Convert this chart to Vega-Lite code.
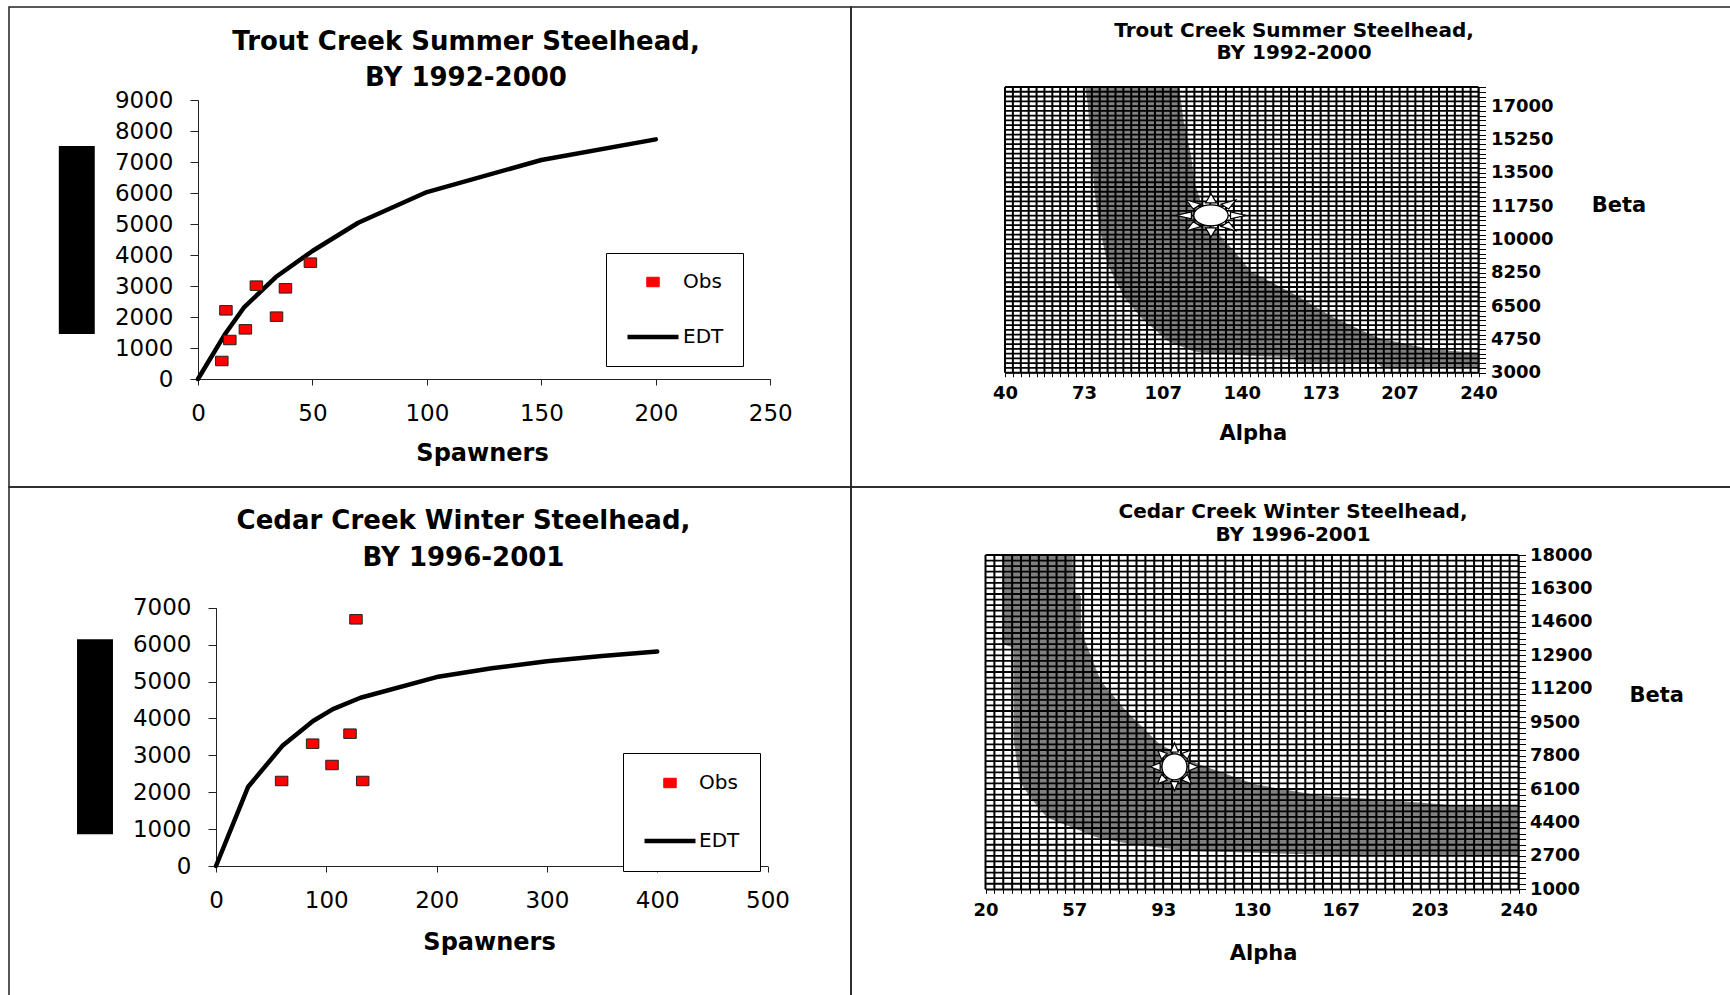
{
  "$schema": "https://vega.github.io/schema/vega-lite/v6.json",
  "background": "white",
  "padding": {"left": 8, "top": 6, "right": 0, "bottom": 0},
  "columns": 2,
  "spacing": 0,
  "bounds": "flush",
  "align": "each",
  "resolve": {"scale": {"color": "independent"}, "legend": {"color": "independent"}},
  "config": {
    "view": {"stroke": "#222222", "strokeWidth": 1.5},
    "font": "DejaVu Sans",
    "axis": {"grid": false, "labelOverlap": false, "labelFlush": false, "labelBound": false, "labelColor": "#000000", "titleColor": "#000000", "domainColor": "#222222", "tickColor": "#222222", "domainWidth": 1, "tickWidth": 1},
    "title": {"color": "#000000"}
  },
  "concat": [
    {
      "width": 842, "height": 480,
      "title": {"text": ["Trout Creek Summer Steelhead,", "BY 1992-2000"], "anchor": "middle", "frame": "group", "baseline": "alphabetic", "offset": -105, "dx": 36, "font": "DejaVu Sans", "fontWeight": "bold", "fontSize": 26, "lineHeight": 36},
      "layer": [
        {
          "data": {"values": [{"x0": -60.8, "x1": -45.1, "y0": 1452, "y1": 7516}]},
          "mark": {"type": "rect", "color": "#000000"},
          "encoding": {
            "x": {"field": "x0", "type": "quantitative"},
            "x2": {"field": "x1"},
            "y": {"field": "y0", "type": "quantitative"},
            "y2": {"field": "y1"}
          }
        },
        {
          "data": {"values": [
            {"S": 0, "R": 0, "series": "EDT"}, {"S": 12, "R": 1470, "series": "EDT"}, {"S": 20, "R": 2300, "series": "EDT"},
            {"S": 34, "R": 3290, "series": "EDT"}, {"S": 50, "R": 4130, "series": "EDT"}, {"S": 70, "R": 5040, "series": "EDT"},
            {"S": 100, "R": 6030, "series": "EDT"}, {"S": 150, "R": 7065, "series": "EDT"}, {"S": 200, "R": 7730, "series": "EDT"}
          ]},
          "mark": {"type": "line", "strokeWidth": 4.5, "strokeCap": "round", "strokeJoin": "round"},
          "encoding": {
            "x": {"field": "S", "type": "quantitative", "scale": {"domain": [0, 250], "range": [189, 761.3], "nice": false, "zero": false},
              "axis": {"title": "Spawners", "offset": -108, "values": [0, 50, 100, 150, 200, 250], "format": "d", "tickSize": 6, "labelPadding": 17.5, "labelFont": "DejaVu Sans", "labelFontSize": 23, "titleFont": "DejaVu Sans", "titleFontWeight": "bold", "titleFontSize": 24, "titleX": 473, "titleY": 74, "titleAlign": "center", "titleBaseline": "middle"}},
            "y": {"field": "R", "type": "quantitative", "scale": {"domain": [0, 9000], "range": [372, 93], "nice": false, "zero": false},
              "axis": {"title": null, "offset": -189, "values": [0, 1000, 2000, 3000, 4000, 5000, 6000, 7000, 8000, 9000], "format": "d", "tickSize": 8, "labelPadding": 17, "labelFont": "DejaVu Sans", "labelFontSize": 23}},
            "color": {"field": "series", "type": "nominal", "scale": {"domain": ["Obs", "EDT"], "range": ["#ff0000", "#000000"]},
              "legend": {"orient": "none", "legendX": 597, "legendY": 246, "title": null, "direction": "vertical", "padding": 19, "rowPadding": 35, "symbolOffset": 18, "labelOffset": 20, "labelFont": "DejaVu Sans", "labelFontSize": 20, "labelColor": "#000000", "strokeColor": "#000000", "fillColor": "#ffffff", "symbolSize": 2601,
                "encoding": {"symbols": {
                  "shape": {"value": {"expr": "datum.value === 'EDT' ? 'stroke' : 'M-0.245,-0.186L0.245,-0.186L0.245,0.186L-0.245,0.186Z'"}},
                  "size": {"value": 2601},
                  "fill": {"value": {"expr": "datum.value === 'EDT' ? 'transparent' : '#ff0000'"}},
                  "stroke": {"value": {"expr": "datum.value === 'EDT' ? '#000000' : '#222222'"}},
                  "strokeWidth": {"value": {"expr": "datum.value === 'EDT' ? 4.5 : 1"}},
                  "opacity": {"value": 1}
                }}}}
          }
        },
        {
          "data": {"values": [
            {"S": 10.4, "R": 581, "series": "Obs"}, {"S": 12.2, "R": 2215, "series": "Obs"}, {"S": 13.9, "R": 1258, "series": "Obs"},
            {"S": 20.7, "R": 1602, "series": "Obs"}, {"S": 25.5, "R": 3011, "series": "Obs"}, {"S": 34.3, "R": 2011, "series": "Obs"},
            {"S": 38.2, "R": 2925, "series": "Obs"}, {"S": 49.1, "R": 3753, "series": "Obs"}
          ]},
          "mark": {"type": "point", "shape": "M-1,-0.76L1,-0.76L1,0.76L-1,0.76Z", "size": 156, "filled": true, "opacity": 1, "stroke": "#222222", "strokeWidth": 1},
          "encoding": {
            "x": {"field": "S", "type": "quantitative"},
            "y": {"field": "R", "type": "quantitative"},
            "color": {"field": "series", "type": "nominal",
              "legend": {"orient": "none", "legendX": 597, "legendY": 246, "title": null, "direction": "vertical", "padding": 19, "rowPadding": 35, "symbolOffset": 18, "labelOffset": 20, "labelFont": "DejaVu Sans", "labelFontSize": 20, "labelColor": "#000000", "strokeColor": "#000000", "fillColor": "#ffffff", "symbolSize": 2601,
                "encoding": {"symbols": {
                  "shape": {"value": {"expr": "datum.value === 'EDT' ? 'stroke' : 'M-0.245,-0.186L0.245,-0.186L0.245,0.186L-0.245,0.186Z'"}},
                  "size": {"value": 2601},
                  "fill": {"value": {"expr": "datum.value === 'EDT' ? 'transparent' : '#ff0000'"}},
                  "stroke": {"value": {"expr": "datum.value === 'EDT' ? '#000000' : '#222222'"}},
                  "strokeWidth": {"value": {"expr": "datum.value === 'EDT' ? 4.5 : 1"}},
                  "opacity": {"value": 1}
                }}}}
          }
        }
      ]
    },
    {
      "width": 900, "height": 480,
      "title": {"text": ["Trout Creek Summer Steelhead,", "BY 1992-2000"], "anchor": "middle", "frame": "group", "baseline": "alphabetic", "offset": -71.5, "dx": -7, "font": "DejaVu Sans", "fontWeight": "bold", "fontSize": 20, "lineHeight": 22},
      "layer": [
        {
          "data": {"values": [
            {"a": 73.9, "lo": 18000, "hi": 18000}, {"a": 74.9, "lo": 17150, "hi": 18000}, {"a": 77.8, "lo": 12520, "hi": 18000},
            {"a": 79.9, "lo": 10600, "hi": 18000}, {"a": 83.4, "lo": 8680, "hi": 18000}, {"a": 90.4, "lo": 6930, "hi": 18000},
            {"a": 97.5, "lo": 5880, "hi": 18000}, {"a": 108.8, "lo": 4660, "hi": 18000}, {"a": 113.5, "lo": 4420, "hi": 18000},
            {"a": 115.5, "lo": 4320, "hi": 16200}, {"a": 118.6, "lo": 4170, "hi": 14400}, {"a": 120, "lo": 4110, "hi": 13000},
            {"a": 124, "lo": 4030, "hi": 11500}, {"a": 130, "lo": 3980, "hi": 10300}, {"a": 136, "lo": 3950, "hi": 9500},
            {"a": 144, "lo": 3880, "hi": 8300}, {"a": 162, "lo": 3820, "hi": 7130}, {"a": 163, "lo": 3550, "hi": 7070},
            {"a": 179, "lo": 3540, "hi": 5890}, {"a": 197, "lo": 3520, "hi": 4860}, {"a": 199, "lo": 3300, "hi": 4780},
            {"a": 217, "lo": 3300, "hi": 4310}, {"a": 229, "lo": 3300, "hi": 4137}, {"a": 240, "lo": 3300, "hi": 4050}
          ]},
          "mark": {"type": "area", "color": "#808080", "opacity": 1},
          "encoding": {
            "x": {"field": "a", "type": "quantitative", "scale": {"domain": [40, 240], "range": [154, 627.5], "nice": false, "zero": false},
              "axis": {"title": "Alpha", "orient": "bottom", "offset": -114.3, "tickCount": 200,
                "values": [40,43.33,46.67,50,53.33,56.67,60,63.33,66.67,70,73.33,76.67,80,83.33,86.67,90,93.33,96.67,100,103.33,106.67,110,113.33,116.67,120,123.33,126.67,130,133.33,136.67,140,143.33,146.67,150,153.33,156.67,160,163.33,166.67,170,173.33,176.67,180,183.33,186.67,190,193.33,196.67,200,203.33,206.67,210,213.33,216.67,220,223.33,226.67,230,233.33,236.67,240],
                "labelExpr": "round(datum.index * 60) % 10 === 0 ? format(datum.value, '.0f') : ''",
                "tickSize": 4, "labelPadding": 8, "labelFont": "DejaVu Sans", "labelFontWeight": "bold", "labelFontSize": 18, "domainColor": "#000000", "tickColor": "#000000",
                "titleFont": "DejaVu Sans", "titleFontWeight": "bold", "titleFontSize": 21, "titleX": 401.8, "titleY": 60.6, "titleAlign": "center", "titleBaseline": "middle"}},
            "y": {"field": "lo", "type": "quantitative", "scale": {"domain": [3000, 18000], "range": [365.7, 80], "nice": false, "zero": false},
              "axis": {"title": "Beta", "orient": "right", "offset": -272.5, "tickCount": 200,
                "values": [3000,3250,3500,3750,4000,4250,4500,4750,5000,5250,5500,5750,6000,6250,6500,6750,7000,7250,7500,7750,8000,8250,8500,8750,9000,9250,9500,9750,10000,10250,10500,10750,11000,11250,11500,11750,12000,12250,12500,12750,13000,13250,13500,13750,14000,14250,14500,14750,15000,15250,15500,15750,16000,16250,16500,16750,17000,17250,17500,17750,18000],
                "labelExpr": "round(datum.index * 60) % 7 === 0 ? format(datum.value, '.0f') : ''",
                "tickSize": 7, "labelPadding": 5, "labelFont": "DejaVu Sans", "labelFontWeight": "bold", "labelFontSize": 18, "domainColor": "#000000", "tickColor": "#000000",
                "titleFont": "DejaVu Sans", "titleFontWeight": "bold", "titleFontSize": 21, "titleAngle": 0, "titleX": 140, "titleY": 198.8, "titleAlign": "center", "titleBaseline": "middle"}},
            "y2": {"field": "hi"}
          }
        },
        {
          "data": {"values": [{"a":40},{"a":43.33},{"a":46.67},{"a":50},{"a":53.33},{"a":56.67},{"a":60},{"a":63.33},{"a":66.67},{"a":70},{"a":73.33},{"a":76.67},{"a":80},{"a":83.33},{"a":86.67},{"a":90},{"a":93.33},{"a":96.67},{"a":100},{"a":103.33},{"a":106.67},{"a":110},{"a":113.33},{"a":116.67},{"a":120},{"a":123.33},{"a":126.67},{"a":130},{"a":133.33},{"a":136.67},{"a":140},{"a":143.33},{"a":146.67},{"a":150},{"a":153.33},{"a":156.67},{"a":160},{"a":163.33},{"a":166.67},{"a":170},{"a":173.33},{"a":176.67},{"a":180},{"a":183.33},{"a":186.67},{"a":190},{"a":193.33},{"a":196.67},{"a":200},{"a":203.33},{"a":206.67},{"a":210},{"a":213.33},{"a":216.67},{"a":220},{"a":223.33},{"a":226.67},{"a":230},{"a":233.33},{"a":236.67},{"a":240}]},
          "mark": {"type": "rule", "color": "#000000", "strokeWidth": 2},
          "encoding": {
            "x": {"field": "a", "type": "quantitative"},
            "y": {"datum": 3000},
            "y2": {"datum": 18000}
          }
        },
        {
          "data": {"values": [{"b":3000},{"b":3250},{"b":3500},{"b":3750},{"b":4000},{"b":4250},{"b":4500},{"b":4750},{"b":5000},{"b":5250},{"b":5500},{"b":5750},{"b":6000},{"b":6250},{"b":6500},{"b":6750},{"b":7000},{"b":7250},{"b":7500},{"b":7750},{"b":8000},{"b":8250},{"b":8500},{"b":8750},{"b":9000},{"b":9250},{"b":9500},{"b":9750},{"b":10000},{"b":10250},{"b":10500},{"b":10750},{"b":11000},{"b":11250},{"b":11500},{"b":11750},{"b":12000},{"b":12250},{"b":12500},{"b":12750},{"b":13000},{"b":13250},{"b":13500},{"b":13750},{"b":14000},{"b":14250},{"b":14500},{"b":14750},{"b":15000},{"b":15250},{"b":15500},{"b":15750},{"b":16000},{"b":16250},{"b":16500},{"b":16750},{"b":17000},{"b":17250},{"b":17500},{"b":17750},{"b":18000}]},
          "mark": {"type": "rule", "color": "#000000", "strokeWidth": 1.8},
          "encoding": {
            "y": {"field": "b", "type": "quantitative"},
            "x": {"datum": 40},
            "x2": {"datum": 240}
          }
        },
        {
          "data": {"values": [{"a": 127, "b": 11260}]},
          "mark": {"type": "point", "filled": true, "fill": "#ffffff", "stroke": "#000000", "strokeWidth": 1.2, "opacity": 1, "size": 4900,
            "shape": "M0.49,0C0.49,0.1657 0.2706,0.3 0,0.3C-0.2706,0.3 -0.49,0.1657 -0.49,0C-0.49,-0.1657 -0.2706,-0.3 0,-0.3C0.2706,-0.3 0.49,-0.1657 0.49,0Z M1,0L0.559,0.099L0.559,-0.099Z M0.707,0.438L0.286,0.322L0.505,0.182Z M0,0.62L-0.155,0.357L0.155,0.357Z M-0.707,0.438L-0.505,0.182L-0.286,0.322Z M-1,0L-0.559,-0.099L-0.559,0.099Z M-0.707,-0.438L-0.286,-0.322L-0.505,-0.182Z M0,-0.62L0.155,-0.357L-0.155,-0.357Z M0.707,-0.438L0.505,-0.182L0.286,-0.322Z"},
          "encoding": {
            "x": {"field": "a", "type": "quantitative"},
            "y": {"field": "b", "type": "quantitative"}
          }
        }
      ]
    },
    {
      "width": 842, "height": 530,
      "title": {"text": ["Cedar Creek Winter Steelhead,", "BY 1996-2001"], "anchor": "middle", "frame": "group", "baseline": "alphabetic", "offset": -105.2, "dx": 33.5, "font": "DejaVu Sans", "fontWeight": "bold", "fontSize": 26, "lineHeight": 37.4},
      "layer": [
        {
          "data": {"values": [{"x0": -126, "x1": -93.4, "y0": 859, "y1": 6144}]},
          "mark": {"type": "rect", "color": "#000000"},
          "encoding": {
            "x": {"field": "x0", "type": "quantitative"},
            "x2": {"field": "x1"},
            "y": {"field": "y0", "type": "quantitative"},
            "y2": {"field": "y1"}
          }
        },
        {
          "data": {"values": [
            {"S": 0, "R": 0, "series": "EDT"}, {"S": 29, "R": 2140, "series": "EDT"}, {"S": 60, "R": 3250, "series": "EDT"},
            {"S": 88, "R": 3930, "series": "EDT"}, {"S": 106, "R": 4250, "series": "EDT"}, {"S": 131, "R": 4560, "series": "EDT"},
            {"S": 200, "R": 5120, "series": "EDT"}, {"S": 250, "R": 5360, "series": "EDT"}, {"S": 300, "R": 5550, "series": "EDT"},
            {"S": 350, "R": 5690, "series": "EDT"}, {"S": 400, "R": 5810, "series": "EDT"}
          ]},
          "mark": {"type": "line", "strokeWidth": 4.5, "strokeCap": "round", "strokeJoin": "round"},
          "encoding": {
            "x": {"field": "S", "type": "quantitative", "scale": {"domain": [0, 500], "range": [207, 758.5], "nice": false, "zero": false},
              "axis": {"title": "Spawners", "offset": -151, "values": [0, 100, 200, 300, 400, 500], "format": "d", "tickSize": 6, "labelPadding": 17.5, "labelFont": "DejaVu Sans", "labelFontSize": 23, "titleFont": "DejaVu Sans", "titleFontWeight": "bold", "titleFontSize": 24, "titleX": 480, "titleY": 76.5, "titleAlign": "center", "titleBaseline": "middle"}},
            "y": {"field": "R", "type": "quantitative", "scale": {"domain": [0, 7000], "range": [379, 120.7], "nice": false, "zero": false},
              "axis": {"title": null, "offset": -207, "values": [0, 1000, 2000, 3000, 4000, 5000, 6000, 7000], "format": "d", "tickSize": 8, "labelPadding": 17, "labelFont": "DejaVu Sans", "labelFontSize": 23}},
            "color": {"field": "series", "type": "nominal", "scale": {"domain": ["Obs", "EDT"], "range": ["#ff0000", "#000000"]},
              "legend": {"orient": "none", "legendX": 614, "legendY": 266, "title": null, "direction": "vertical", "padding": 20, "rowPadding": 38, "symbolOffset": 17, "labelOffset": 19, "labelFont": "DejaVu Sans", "labelFontSize": 20, "labelColor": "#000000", "strokeColor": "#000000", "fillColor": "#ffffff", "symbolSize": 2601,
                "encoding": {"symbols": {
                  "shape": {"value": {"expr": "datum.value === 'EDT' ? 'stroke' : 'M-0.245,-0.186L0.245,-0.186L0.245,0.186L-0.245,0.186Z'"}},
                  "size": {"value": 2601},
                  "fill": {"value": {"expr": "datum.value === 'EDT' ? 'transparent' : '#ff0000'"}},
                  "stroke": {"value": {"expr": "datum.value === 'EDT' ? '#000000' : '#222222'"}},
                  "strokeWidth": {"value": {"expr": "datum.value === 'EDT' ? 4.5 : 1"}},
                  "opacity": {"value": 1}
                }}}}
          }
        },
        {
          "data": {"values": [
            {"S": 59.5, "R": 2304, "series": "Obs"}, {"S": 87.6, "R": 3315, "series": "Obs"}, {"S": 105.2, "R": 2737, "series": "Obs"},
            {"S": 121.5, "R": 3586, "series": "Obs"}, {"S": 126.9, "R": 6685, "series": "Obs"}, {"S": 133, "R": 2304, "series": "Obs"}
          ]},
          "mark": {"type": "point", "shape": "M-1,-0.76L1,-0.76L1,0.76L-1,0.76Z", "size": 156, "filled": true, "opacity": 1, "stroke": "#222222", "strokeWidth": 1},
          "encoding": {
            "x": {"field": "S", "type": "quantitative"},
            "y": {"field": "R", "type": "quantitative"},
            "color": {"field": "series", "type": "nominal",
              "legend": {"orient": "none", "legendX": 614, "legendY": 266, "title": null, "direction": "vertical", "padding": 20, "rowPadding": 38, "symbolOffset": 17, "labelOffset": 19, "labelFont": "DejaVu Sans", "labelFontSize": 20, "labelColor": "#000000", "strokeColor": "#000000", "fillColor": "#ffffff", "symbolSize": 2601,
                "encoding": {"symbols": {
                  "shape": {"value": {"expr": "datum.value === 'EDT' ? 'stroke' : 'M-0.245,-0.186L0.245,-0.186L0.245,0.186L-0.245,0.186Z'"}},
                  "size": {"value": 2601},
                  "fill": {"value": {"expr": "datum.value === 'EDT' ? 'transparent' : '#ff0000'"}},
                  "stroke": {"value": {"expr": "datum.value === 'EDT' ? '#000000' : '#222222'"}},
                  "strokeWidth": {"value": {"expr": "datum.value === 'EDT' ? 4.5 : 1"}},
                  "opacity": {"value": 1}
                }}}}
          }
        }
      ]
    },
    {
      "width": 900, "height": 530,
      "title": {"text": ["Cedar Creek Winter Steelhead,", "BY 1996-2001"], "anchor": "middle", "frame": "group", "baseline": "alphabetic", "offset": -73.7, "dx": -8, "font": "DejaVu Sans", "fontWeight": "bold", "fontSize": 20, "lineHeight": 23.2},
      "layer": [
        {
          "data": {"values": [
            {"a": 27.0, "lo": 13460, "hi": 18000}, {"a": 31.5, "lo": 13300, "hi": 18000}, {"a": 31.7, "lo": 8540, "hi": 18000},
            {"a": 34, "lo": 6510, "hi": 18000}, {"a": 38.6, "lo": 5660, "hi": 18000}, {"a": 45.5, "lo": 4640, "hi": 18000},
            {"a": 56, "lo": 4128, "hi": 18000}, {"a": 56.1, "lo": 4123, "hi": 16170}, {"a": 59.4, "lo": 3962, "hi": 15920},
            {"a": 59.5, "lo": 3957, "hi": 14130}, {"a": 66.4, "lo": 3620, "hi": 11966}, {"a": 67.6, "lo": 3592, "hi": 11590},
            {"a": 78, "lo": 3345, "hi": 10070}, {"a": 80.3, "lo": 3290, "hi": 9789}, {"a": 91.9, "lo": 3120, "hi": 8370},
            {"a": 103.5, "lo": 2950, "hi": 7647}, {"a": 108.1, "lo": 2934, "hi": 7360}, {"a": 131.2, "lo": 2856, "hi": 6340},
            {"a": 159, "lo": 2761, "hi": 5740}, {"a": 179.9, "lo": 2690, "hi": 5596}, {"a": 182.2, "lo": 2690, "hi": 5580},
            {"a": 217, "lo": 2690, "hi": 5240}, {"a": 240, "lo": 2690, "hi": 5240}
          ]},
          "mark": {"type": "area", "color": "#808080", "opacity": 1},
          "encoding": {
            "x": {"field": "a", "type": "quantitative", "scale": {"domain": [20, 240], "range": [134.5, 667.5], "nice": false, "zero": false},
              "axis": {"title": "Alpha", "orient": "bottom", "offset": -127.7, "tickCount": 200,
                "values": [20,23.67,27.33,31,34.67,38.33,42,45.67,49.33,53,56.67,60.33,64,67.67,71.33,75,78.67,82.33,86,89.67,93.33,97,100.67,104.33,108,111.67,115.33,119,122.67,126.33,130,133.67,137.33,141,144.67,148.33,152,155.67,159.33,163,166.67,170.33,174,177.67,181.33,185,188.67,192.33,196,199.67,203.33,207,210.67,214.33,218,221.67,225.33,229,232.67,236.33,240],
                "labelExpr": "round(datum.index * 60) % 10 === 0 ? format(datum.value, '.0f') : ''",
                "tickSize": 4, "labelPadding": 8, "labelFont": "DejaVu Sans", "labelFontWeight": "bold", "labelFontSize": 18, "domainColor": "#000000", "tickColor": "#000000",
                "titleFont": "DejaVu Sans", "titleFontWeight": "bold", "titleFontSize": 21, "titleX": 412, "titleY": 64, "titleAlign": "center", "titleBaseline": "middle"}},
            "y": {"field": "lo", "type": "quantitative", "scale": {"domain": [1000, 18000], "range": [402.3, 68], "nice": false, "zero": false},
              "axis": {"title": "Beta", "orient": "right", "offset": -232.5, "tickCount": 200,
                "values": [1000,1283.33,1566.67,1850,2133.33,2416.67,2700,2983.33,3266.67,3550,3833.33,4116.67,4400,4683.33,4966.67,5250,5533.33,5816.67,6100,6383.33,6666.67,6950,7233.33,7516.67,7800,8083.33,8366.67,8650,8933.33,9216.67,9500,9783.33,10066.67,10350,10633.33,10916.67,11200,11483.33,11766.67,12050,12333.33,12616.67,12900,13183.33,13466.67,13750,14033.33,14316.67,14600,14883.33,15166.67,15450,15733.33,16016.67,16300,16583.33,16866.67,17150,17433.33,17716.67,18000],
                "labelExpr": "round(datum.index * 60) % 6 === 0 ? format(datum.value, '.0f') : ''",
                "tickSize": 7, "labelPadding": 4, "labelFont": "DejaVu Sans", "labelFontWeight": "bold", "labelFontSize": 18, "domainColor": "#000000", "tickColor": "#000000",
                "titleFont": "DejaVu Sans", "titleFontWeight": "bold", "titleFontSize": 21, "titleAngle": 0, "titleX": 137.8, "titleY": 208.8, "titleAlign": "center", "titleBaseline": "middle"}},
            "y2": {"field": "hi"}
          }
        },
        {
          "data": {"values": [{"a":20},{"a":23.67},{"a":27.33},{"a":31},{"a":34.67},{"a":38.33},{"a":42},{"a":45.67},{"a":49.33},{"a":53},{"a":56.67},{"a":60.33},{"a":64},{"a":67.67},{"a":71.33},{"a":75},{"a":78.67},{"a":82.33},{"a":86},{"a":89.67},{"a":93.33},{"a":97},{"a":100.67},{"a":104.33},{"a":108},{"a":111.67},{"a":115.33},{"a":119},{"a":122.67},{"a":126.33},{"a":130},{"a":133.67},{"a":137.33},{"a":141},{"a":144.67},{"a":148.33},{"a":152},{"a":155.67},{"a":159.33},{"a":163},{"a":166.67},{"a":170.33},{"a":174},{"a":177.67},{"a":181.33},{"a":185},{"a":188.67},{"a":192.33},{"a":196},{"a":199.67},{"a":203.33},{"a":207},{"a":210.67},{"a":214.33},{"a":218},{"a":221.67},{"a":225.33},{"a":229},{"a":232.67},{"a":236.33},{"a":240}]},
          "mark": {"type": "rule", "color": "#000000", "strokeWidth": 2},
          "encoding": {
            "x": {"field": "a", "type": "quantitative"},
            "y": {"datum": 1000},
            "y2": {"datum": 18000}
          }
        },
        {
          "data": {"values": [{"b":1000},{"b":1283.33},{"b":1566.67},{"b":1850},{"b":2133.33},{"b":2416.67},{"b":2700},{"b":2983.33},{"b":3266.67},{"b":3550},{"b":3833.33},{"b":4116.67},{"b":4400},{"b":4683.33},{"b":4966.67},{"b":5250},{"b":5533.33},{"b":5816.67},{"b":6100},{"b":6383.33},{"b":6666.67},{"b":6950},{"b":7233.33},{"b":7516.67},{"b":7800},{"b":8083.33},{"b":8366.67},{"b":8650},{"b":8933.33},{"b":9216.67},{"b":9500},{"b":9783.33},{"b":10066.67},{"b":10350},{"b":10633.33},{"b":10916.67},{"b":11200},{"b":11483.33},{"b":11766.67},{"b":12050},{"b":12333.33},{"b":12616.67},{"b":12900},{"b":13183.33},{"b":13466.67},{"b":13750},{"b":14033.33},{"b":14316.67},{"b":14600},{"b":14883.33},{"b":15166.67},{"b":15450},{"b":15733.33},{"b":16016.67},{"b":16300},{"b":16583.33},{"b":16866.67},{"b":17150},{"b":17433.33},{"b":17716.67},{"b":18000}]},
          "mark": {"type": "rule", "color": "#000000", "strokeWidth": 1.8},
          "encoding": {
            "y": {"field": "b", "type": "quantitative"},
            "x": {"datum": 20},
            "x2": {"datum": 240}
          }
        },
        {
          "data": {"values": [{"a": 98, "b": 7230}]},
          "mark": {"type": "point", "filled": true, "fill": "#ffffff", "stroke": "#000000", "strokeWidth": 1.2, "opacity": 1, "size": 2304,
            "shape": "M0.52,0C0.52,0.2982 0.2872,0.54 0,0.54C-0.2872,0.54 -0.52,0.2982 -0.52,0C-0.52,-0.2982 -0.2872,-0.54 0,-0.54C0.2872,-0.54 0.52,-0.2982 0.52,0Z M1,0L0.598,0.171L0.598,-0.171Z M0.707,0.707L0.306,0.557L0.54,0.316Z M0,1L-0.165,0.617L0.165,0.617Z M-0.707,0.707L-0.54,0.316L-0.306,0.557Z M-1,0L-0.598,-0.171L-0.598,0.171Z M-0.707,-0.707L-0.306,-0.557L-0.54,-0.316Z M0,-1L0.165,-0.617L-0.165,-0.617Z M0.707,-0.707L0.54,-0.316L0.306,-0.557Z"},
          "encoding": {
            "x": {"field": "a", "type": "quantitative"},
            "y": {"field": "b", "type": "quantitative"}
          }
        }
      ]
    }
  ]
}
